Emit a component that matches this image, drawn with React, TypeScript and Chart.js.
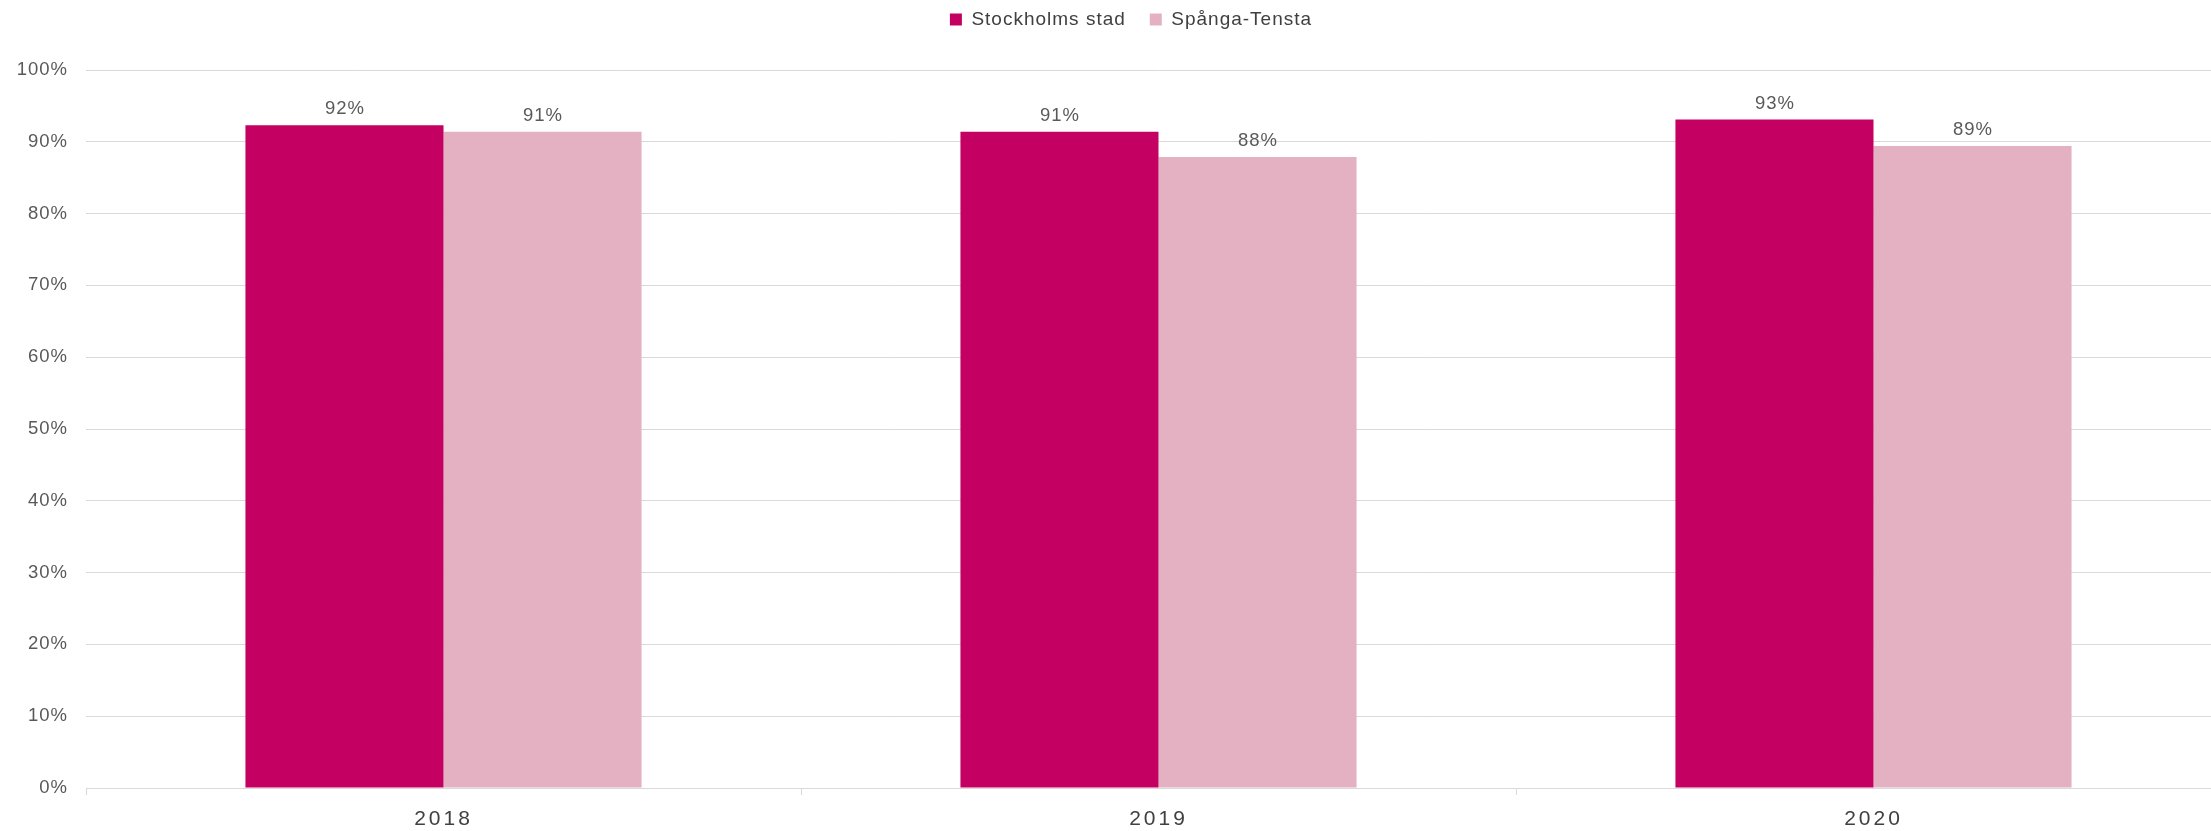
import React, { useEffect, useRef } from "react";
import { Chart, registerables } from "chart.js";

Chart.register(...registerables);

const categories = ["2018", "2019", "2020"];
const seriesNames = ["Stockholms stad", "Spånga-Tensta"];
const stockholmValues = [92.3, 91.4, 93.1];
const spangaValues = [91.4, 87.9, 89.4];
const yTicks = [0, 10, 20, 30, 40, 50, 60, 70, 80, 90, 100];

const FONT = "'Liberation Sans', Arial, sans-serif";

const spacing = {
  id: "spacing",
  beforeUpdate(chart: any) {
    chart.ctx.letterSpacing = "1px";
  },
  beforeLayout(chart: any) {
    chart.ctx.letterSpacing = "1px";
  },
  beforeDraw(chart: any) {
    chart.ctx.letterSpacing = "1px";
  },
};

const valueLabels = {
  id: "valueLabels",
  afterDatasetsDraw(chart: any) {
    const ctx = chart.ctx;
    ctx.save();
    ctx.letterSpacing = "1px";
    ctx.font = `18.5px ${FONT}`;
    ctx.fillStyle = "#595959";
    ctx.textAlign = "center";
    ctx.textBaseline = "alphabetic";
    chart.data.datasets.forEach((ds: any, di: number) => {
      const meta = chart.getDatasetMeta(di);
      meta.data.forEach((bar: any, i: number) => {
        const v = ds.data[i];
        ctx.fillText(`${Math.round(v)}%`, bar.x + 0.5, bar.y - 11);
      });
    });
    ctx.restore();
  },
};

export default function App() {
  const ref = useRef<HTMLCanvasElement | null>(null);
  useEffect(() => {
    if (!ref.current) return;
    const chart = new Chart(ref.current, {
      type: "bar",
      data: {
        labels: categories,
        datasets: [
          {
            label: seriesNames[0],
            data: stockholmValues,
            backgroundColor: "#C40062",
            categoryPercentage: 0.554,
            barPercentage: 1,
          },
          {
            label: seriesNames[1],
            data: spangaValues,
            backgroundColor: "#E3B1C2",
            categoryPercentage: 0.554,
            barPercentage: 1,
          },
        ],
      },
      options: {
        responsive: false,
        animation: false,
        layout: { padding: { top: -14, left: 0, right: 0, bottom: 0 } },
        plugins: {
          legend: {
            position: "top",
            labels: {
              boxWidth: 12,
              boxHeight: 12,
              padding: 24,
              color: "#404040",
              font: { family: FONT, size: 19 },
            },
          },
          title: {
            display: true,
            text: "",
            position: "top",
            weight: 500,
            font: { size: 1, lineHeight: 1 },
            padding: { top: 0, bottom: 30 },
          },
          tooltip: { enabled: false },
        },
        scales: {
          x: {
            grid: {
              display: true,
              drawOnChartArea: false,
              offset: true,
              tickLength: 7,
              color: "#d9d9d9",
            },
            border: { display: true, color: "#d9d9d9" },
            ticks: {
              color: "#404040",
              font: { family: FONT, size: 21 },
              padding: 12,
            },
            afterFit(scale: any) {
              scale.height = 43;
              if (!scale._lsPatched) {
                const orig = scale.drawLabels.bind(scale);
                scale.drawLabels = (area: any) => {
                  const c = scale.ctx;
                  c.save();
                  c.letterSpacing = "3px";
                  orig(area);
                  c.restore();
                };
                scale._lsPatched = true;
              }
            },
          },
          y: {
            min: 0,
            max: 100,
            afterBuildTicks(scale: any) {
              scale.ticks = yTicks.map((v) => ({ value: v }));
            },
            grid: { color: "#d9d9d9", drawTicks: false },
            border: { display: false },
            ticks: {
              color: "#595959",
              font: { family: FONT, size: 18.5 },
              padding: 18,
              callback: (v: any) => `${v}%`,
            },
            afterFit(scale: any) {
              scale.width = 86;
            },
          },
          y2: {
            position: "right",
            display: true,
            grid: { display: false },
            border: { display: false },
            ticks: { display: false },
            afterFit(scale: any) {
              scale.width = 31;
            },
          },
        },
      },
      plugins: [spacing, valueLabels],
    });
    return () => chart.destroy();
  }, []);
  return (
    <div
      style={{
        position: "fixed",
        left: 0,
        top: 0,
        width: 2211,
        height: 831,
        overflow: "hidden",
        background: "#fff",
      }}
    >
      <canvas ref={ref} width={2262} height={831} style={{ display: "block" }} />
    </div>
  );
}
